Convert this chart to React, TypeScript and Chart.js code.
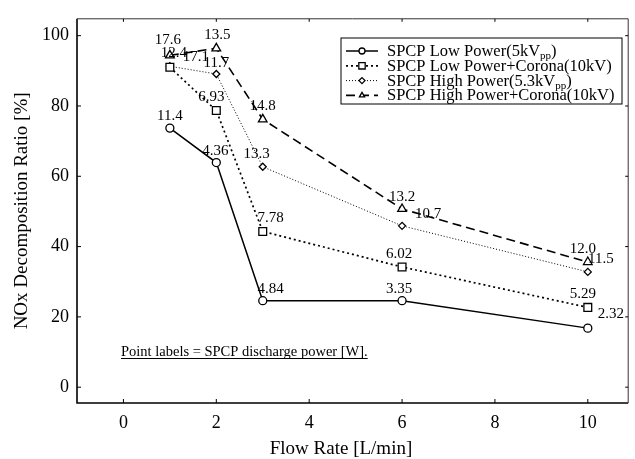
import React, { useEffect, useRef } from "react";
import { Chart, registerables } from "chart.js";

Chart.register(...registerables);

// ---- data ----
const flowRates = [1, 2, 3, 6, 10];
const lowPower = [73.7, 63.9, 24.6, 24.6, 16.8];
const lowPowerCorona = [91.0, 78.7, 44.3, 34.2, 22.7];
const highPower = [91.3, 89.1, 62.7, 45.9, 32.8];
const highPowerCorona = [94.4, 96.4, 76.2, 50.7, 35.6];

const lowPowerLabels = ["11.4", "4.36", "4.84", "3.35", "2.32"];
const lowPowerCoronaLabels = ["12.4", "6.93", "7.78", "6.02", "5.29"];
const highPowerLabels = ["17.1", "11.7", "13.3", "10.7", "11.5"];
const highPowerCoronaLabels = ["17.6", "13.5", "14.8", "13.2", "12.0"];

const xTicks = [0, 2, 4, 6, 8, 10];
const yTicks = [0, 20, 40, 60, 80, 100];

const seriesNames = [
  "SPCP Low Power(5kVpp)",
  "SPCP Low Power+Corona(10kV)",
  "SPCP High Power(5.3kVpp)",
  "SPCP High Power+Corona(10kV)",
];
// legend text segments (second element true = subscript)
const legendSegments: [string, boolean][][] = [
  [["SPCP Low Power(5kV", false], ["pp", true], [")", false]],
  [["SPCP Low Power+Corona(10kV)", false]],
  [["SPCP High Power(5.3kV", false], ["pp", true], [")", false]],
  [["SPCP High Power+Corona(10kV)", false]],
];
const noteText = "Point labels = SPCP discharge power [W].";
const xTitle = "Flow Rate [L/min]";
const yTitle = "NOx Decomposition Ratio [%]";

// ---- styles / layout ----
const FONT = '"Liberation Serif", "Times New Roman", serif';
const seriesStyles = [
  { dash: [] as number[], width: 1.5, point: "circle", radius: 4 },
  { dash: [2, 3], width: 1.7, point: "rect", radius: 5.5 },
  { dash: [1, 2], width: 1, point: "rectRot", radius: 3.5 },
  { dash: [9, 5], width: 1.6, point: "triangle", radius: 5 },
];
const labelOffsets: [number, number][][] = [
  [[0, -12], [-1, -12], [8, -12], [-3, -12], [23, -14]],
  [[4, -14], [-5, -13], [8, -13], [-3, -13], [-5, -13]],
  [[26, -9], [0, -11], [-6, -13], [26, -12], [13, -13]],
  [[-2, -15], [1, -13], [0, -13], [0, -12], [-5, -13]],
];
const allLabels = [lowPowerLabels, lowPowerCoronaLabels, highPowerLabels, highPowerCoronaLabels];
const allSeries = [lowPower, lowPowerCorona, highPower, highPowerCorona];

function drawMarker(ctx: CanvasRenderingContext2D, style: string, x: number, y: number, r: number) {
  ctx.beginPath();
  if (style === "circle") {
    ctx.arc(x, y, r, 0, Math.PI * 2);
  } else if (style === "rect") {
    const s = r / Math.SQRT2;
    ctx.rect(x - s, y - s, 2 * s, 2 * s);
  } else if (style === "rectRot") {
    ctx.moveTo(x, y - r);
    ctx.lineTo(x + r, y);
    ctx.lineTo(x, y + r);
    ctx.lineTo(x - r, y);
    ctx.closePath();
  } else {
    ctx.moveTo(x, y - r);
    ctx.lineTo(x + r * 0.866, y + r * 0.5);
    ctx.lineTo(x - r * 0.866, y + r * 0.5);
    ctx.closePath();
  }
  ctx.fillStyle = "#fff";
  ctx.fill();
  ctx.setLineDash([]);
  ctx.lineWidth = 1.3;
  ctx.strokeStyle = "#000";
  ctx.stroke();
}

const decorPlugin = {
  id: "decor",
  beforeDatasetsDraw(chart: any) {
    const { ctx, chartArea } = chart;
    const { left, right, top, bottom } = chartArea;
    const xs = chart.scales.x;
    const ys = chart.scales.y;
    ctx.save();
    ctx.strokeStyle = "#000";
    ctx.setLineDash([]);
    ctx.lineWidth = 1.6;
    ctx.beginPath();
    ctx.moveTo(left, top);
    ctx.lineTo(left, bottom);
    ctx.lineTo(right, bottom);
    ctx.stroke();
    ctx.lineWidth = 1;
    ctx.strokeStyle = "#333";
    ctx.beginPath();
    ctx.moveTo(left, top);
    ctx.lineTo(right, top);
    ctx.lineTo(right, bottom);
    ctx.stroke();
    ctx.strokeStyle = "#000";
    ctx.lineWidth = 1;
    ctx.beginPath();
    xTicks.forEach((v) => {
      const px = xs.getPixelForValue(v);
      ctx.moveTo(px, bottom);
      ctx.lineTo(px, bottom - 4);
      ctx.moveTo(px, top);
      ctx.lineTo(px, top + 3);
    });
    yTicks.forEach((v) => {
      const py = ys.getPixelForValue(v);
      ctx.moveTo(left, py);
      ctx.lineTo(left + 4, py);
      ctx.moveTo(right, py);
      ctx.lineTo(right - 3, py);
    });
    ctx.stroke();
    ctx.restore();
  },
  afterDatasetsDraw(chart: any) {
    const { ctx, chartArea } = chart;
    const { top, bottom, left } = chartArea;
    ctx.save();
    ctx.fillStyle = "#000";
    ctx.font = `15px ${FONT}`;
    ctx.textAlign = "center";
    ctx.textBaseline = "middle";
    allLabels.forEach((labels, di) => {
      const meta = chart.getDatasetMeta(di);
      meta.data.forEach((pt: any, i: number) => {
        const [dx, dy] = labelOffsets[di][i];
        ctx.fillText(labels[i], pt.x + dx, pt.y + dy);
      });
    });
    // note
    ctx.font = `14.5px ${FONT}`;
    ctx.textAlign = "left";
    ctx.textBaseline = "alphabetic";
    const nx = left + 44;
    const ny = 356;
    ctx.fillText(noteText, nx, ny);
    const nw = ctx.measureText(noteText).width;
    ctx.lineWidth = 1;
    ctx.strokeStyle = "#000";
    ctx.beginPath();
    ctx.moveTo(nx, ny + 2.5);
    ctx.lineTo(nx + nw, ny + 2.5);
    ctx.stroke();

    // axis titles
    ctx.font = `19px ${FONT}`;
    ctx.textAlign = "center";
    ctx.textBaseline = "middle";
    ctx.fillText(xTitle, 341, 449);
    ctx.save();
    ctx.translate(22, (top + bottom) / 2);
    ctx.rotate(-Math.PI / 2);
    ctx.fillText(yTitle, 0, 0);
    ctx.restore();

    // legend
    const bx = 341, by = 38, bw = 281, bh = 66;
    ctx.fillStyle = "#fff";
    ctx.fillRect(bx, by, bw, bh);
    ctx.strokeStyle = "#000";
    ctx.lineWidth = 1;
    ctx.setLineDash([]);
    ctx.strokeRect(bx, by, bw, bh);
    seriesStyles.forEach((st, i) => {
      const ry = by + 13 + i * 14.8;
      ctx.save();
      ctx.setLineDash(st.dash);
      ctx.lineWidth = st.width;
      ctx.strokeStyle = "#000";
      ctx.beginPath();
      ctx.moveTo(bx + 5, ry);
      ctx.lineTo(bx + 37, ry);
      ctx.stroke();
      ctx.restore();
      drawMarker(ctx, st.point, bx + 21, ry, st.point === "rect" ? 4.5 : 3);
      let tx = bx + 46;
      ctx.fillStyle = "#000";
      ctx.textAlign = "left";
      ctx.textBaseline = "alphabetic";
      legendSegments[i].forEach(([t, sub]) => {
        ctx.font = sub ? `11px ${FONT}` : `16.5px ${FONT}`;
        ctx.fillText(t, tx, ry + 5 + (sub ? 3 : 0));
        tx += ctx.measureText(t).width;
      });
    });
    ctx.restore();
  },
};

export default function App() {
  const ref = useRef<HTMLCanvasElement | null>(null);
  useEffect(() => {
    if (!ref.current) return;
    const chart = new Chart(ref.current, {
      type: "line",
      data: {
        datasets: allSeries.map((vals, i) => ({
          label: seriesNames[i],
          data: vals.map((v, j) => ({ x: flowRates[j], y: v })),
          borderColor: "#000",
          backgroundColor: "#fff",
          borderWidth: seriesStyles[i].width,
          borderDash: seriesStyles[i].dash,
          pointStyle: seriesStyles[i].point as any,
          pointRadius: seriesStyles[i].radius,
          pointBorderWidth: 1.3,
          pointBorderColor: "#000",
          pointBackgroundColor: "#fff",
          tension: 0,
          fill: false,
        })),
      },
      options: {
        animation: false,
        responsive: false,
        devicePixelRatio: 1,
        layout: { padding: { top: 13, right: 2, left: 0, bottom: 0 } },
        plugins: { legend: { display: false }, tooltip: { enabled: false } },
        scales: {
          x: {
            type: "linear",
            min: -1,
            max: 10.87,
            grid: { display: false, drawTicks: false },
            border: { display: false },
            ticks: { font: { family: FONT, size: 18 }, color: "#000", padding: 9 },
            afterBuildTicks: (s: any) => {
              s.ticks = xTicks.map((v) => ({ value: v }));
            },
            afterFit: (s: any) => {
              s.height = 56;
            },
          },
          y: {
            type: "linear",
            min: -4.5,
            max: 104.8,
            grid: { display: false, drawTicks: false },
            border: { display: false },
            ticks: { font: { family: FONT, size: 18 }, color: "#000", padding: 8 },
            afterBuildTicks: (s: any) => {
              s.ticks = yTicks.map((v) => ({ value: v }));
            },
            afterFit: (s: any) => {
              s.width = 77;
            },
          },
        },
      },
      plugins: [decorPlugin],
    });
    return () => chart.destroy();
  }, []);
  return (
    <div style={{ position: "absolute", left: 0, top: 0, width: 635, height: 459, background: "#fff" }}>
      <canvas ref={ref} width={635} height={459} />
    </div>
  );
}
